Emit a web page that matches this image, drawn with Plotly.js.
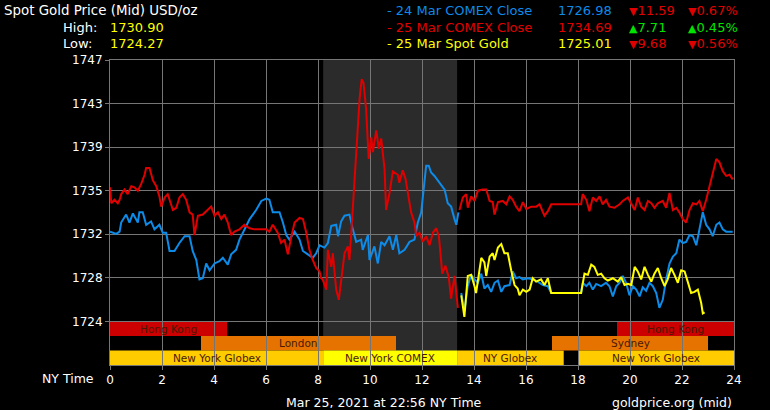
<!DOCTYPE html>
<html>
<head>
<meta charset="utf-8">
<script src="https://cdn.plot.ly/plotly-3.0.1.min.js"></script>
<style>html,body{margin:0;padding:0;background:#000;}#chart{width:770px;height:410px;}</style>
</head>
<body>
<div id="chart"></div>
<script>
// ---------- DATA ----------
const blueX = [0,0.24,0.37,0.43,0.62,0.75,0.88,1.07,1.13,1.26,1.39,1.58,1.71,1.90,2.03,2.16,2.29,2.48,2.67,2.87,3.06,3.18,3.32,3.44,3.57,3.70,3.83,4.02,4.21,4.34,4.53,4.66,4.85,4.98,5.24,5.37,5.62,5.82,6.01,6.13,6.26,6.52,6.65,6.78,6.90,7.10,7.29,7.42,7.61,7.80,7.93,8.06,8.25,8.38,8.51,8.70,8.77,8.89,9.02,9.21,9.34,9.47,9.66,9.72,9.92,9.98,10.17,10.30,10.43,10.56,10.75,10.88,11.01,11.13,11.33,11.52,11.71,11.84,11.97,12.10,12.16,12.26,12.35,12.48,12.67,12.87,12.99,13.12,13.25,13.32,13.40,
  13.45,
  13.51,13.63,13.76,13.89,14.02,14.15,14.28,14.40,14.53,14.66,14.79,14.92,15.05,15.17,15.37,15.49,15.62,15.75,15.88,16.07,16.26,16.45,16.65,16.84,16.97,18.12,18.18,18.32,18.44,18.57,18.70,18.89,19.08,19.21,19.34,19.47,19.60,19.72,19.85,19.98,20.11,20.24,20.37,20.49,20.62,20.75,20.88,21.01,21.13,21.26,21.39,21.52,21.65,21.78,21.90,22.03,22.16,22.29,22.42,22.55,22.67,22.80,22.93,23.06,23.18,23.32,23.44,23.57,23.70,23.95];
const blueY = [1731.9,1731.7,1731.9,1732.7,1733.4,1732.7,1733.5,1732.7,1733.6,1733.6,1732.5,1732.8,1732.1,1732.5,1731.8,1731.8,1730.2,1730.2,1730.9,1731.5,1731.5,1730.2,1729.4,1727.7,1727.8,1729.1,1728.5,1729.1,1729.3,1729.6,1729.0,1729.9,1730.3,1731.2,1732.4,1733.0,1733.8,1734.6,1734.8,1734.7,1733.6,1733.6,1732.7,1731.6,1731.2,1731.9,1731.2,1730.2,1729.9,1729.6,1730.0,1730.7,1730.5,1730.9,1732.4,1732.5,1731.5,1732.8,1733.3,1733.4,1732.1,1731.0,1731.2,1730.3,1731.6,1729.4,1730.6,1729.1,1731.0,1730.7,1731.5,1730.3,1731.6,1730.0,1730.3,1731.0,1731.2,1732.7,1733.6,1736.5,1737.7,1737.7,1737.1,1736.8,1736.2,1735.6,1734.4,1734.1,1733.0,1732.5,1733.6,
  null,
  1726.5,1724.9,1727.1,1728.1,1727.7,1727.4,1728.2,1726.9,1727.2,1726.6,1727.4,1727.6,1726.6,1727.1,1727.2,1728.4,1727.8,1727.9,1727.7,1727.8,1727.7,1727.5,1727.2,1727.1,1726.5,1726.5,1727.4,1727.1,1727.4,1726.8,1727.3,1727.1,1727.4,1727.1,1726.2,1727.1,1727.4,1728.0,1727.4,1726.3,1727.1,1726.8,1726.2,1727.0,1726.7,1727.4,1727.1,1726.5,1725.2,1725.9,1727.7,1729.1,1729.7,1730.0,1731.2,1730.9,1731.0,1731.6,1731.5,1730.7,1732.1,1733.6,1732.5,1732.1,1731.5,1732.5,1732.7,1732.1,1731.9,1731.9];

const redX = [0,0.05,0.17,0.30,0.37,0.43,0.56,0.68,0.82,0.94,1.07,1.20,1.33,1.39,1.52,1.65,1.78,1.90,1.97,2.10,2.22,2.29,2.42,2.55,2.67,2.80,2.93,3.06,3.18,3.25,3.38,3.57,3.70,3.89,4.02,4.15,4.28,4.40,4.53,4.66,4.79,4.98,5.17,5.37,5.56,5.82,6.01,6.13,6.26,6.45,6.58,6.71,6.84,6.97,7.10,7.29,7.42,7.55,7.67,7.80,7.93,8.06,8.12,8.18,8.32,8.38,8.51,8.57,8.63,8.70,8.80,8.89,9.02,9.15,9.21,9.28,9.40,9.53,9.60,9.68,9.75,9.85,9.95,10.05,10.11,10.24,10.34,10.43,10.56,10.62,10.75,10.88,11.07,11.13,11.26,11.37,11.45,11.58,11.71,11.78,11.90,12.03,12.16,12.29,12.42,12.55,12.65,12.78,12.90,13.03,13.12,13.25,13.38,
  13.41,
  13.44,13.57,13.70,13.76,13.89,14.02,14.15,14.34,14.47,14.60,14.72,14.79,14.92,15.11,15.24,15.37,15.49,15.62,15.75,15.88,16.01,16.20,16.39,16.52,16.71,16.84,16.97,18.12,18.18,18.32,18.44,18.57,18.70,18.83,18.95,19.08,19.21,19.40,19.60,19.72,19.92,20.05,20.18,20.30,20.43,20.56,20.69,20.82,20.94,21.07,21.26,21.39,21.52,21.65,21.78,21.90,22.03,22.16,22.29,22.42,22.55,22.67,22.80,22.93,23.06,23.18,23.32,23.44,23.57,23.70,23.83,23.95];
const redY = [1735.8,1734.4,1734.7,1734.4,1734.7,1735.2,1735.6,1735.2,1735.9,1735.8,1735.5,1736.1,1736.9,1737.5,1737.5,1736.4,1735.9,1735.0,1734.1,1734.9,1735.2,1734.7,1733.8,1734.0,1734.9,1735.2,1734.7,1733.6,1733.4,1731.6,1733.3,1733.4,1733.7,1734.1,1733.3,1733.6,1733.0,1733.4,1732.7,1731.6,1731.9,1732.1,1732.5,1732.2,1732.1,1732.1,1732.1,1731.9,1732.5,1731.8,1730.9,1731.2,1729.9,1731.4,1732.7,1733.1,1733.0,1731.8,1730.3,1729.4,1728.7,1728.4,1727.8,1727.7,1726.8,1730.3,1728.8,1730.0,1728.2,1726.8,1725.9,1727.7,1730.0,1730.6,1729.4,1731.8,1736.2,1741.2,1743.6,1745.3,1745.0,1742.7,1738.3,1740.2,1738.9,1740.8,1739.2,1740.1,1737.4,1733.8,1735.3,1737.2,1736.9,1736.2,1737.3,1736.5,1735.5,1733.6,1732.7,1731.5,1731.8,1731.0,1731.5,1730.7,1731.8,1732.2,1731.5,1728.2,1728.9,1727.9,1726.0,1728.0,1725.2,
  null,
  1733.8,1734.9,1735.2,1734.0,1735.0,1734.6,1735.5,1735.6,1735.6,1734.6,1734.5,1733.4,1734.5,1734.6,1734.3,1735.0,1734.7,1734.1,1733.7,1734.5,1733.9,1734.1,1734.1,1734.3,1733.3,1733.7,1734.3,1734.3,1735.2,1734.7,1733.7,1734.9,1734.6,1735.0,1734.3,1734.7,1734.1,1734.0,1734.3,1734.6,1734.9,1734.4,1733.8,1734.9,1734.1,1733.8,1734.6,1734.4,1734.0,1734.4,1734.6,1734.0,1735.3,1733.8,1734.0,1733.6,1733.0,1732.7,1733.8,1734.4,1734.3,1734.6,1733.7,1734.7,1735.9,1737.1,1738.3,1738.0,1737.2,1736.8,1736.9,1736.5];

const yellowX = [13.51,13.63,13.76,13.89,14.02,14.08,14.28,14.40,14.47,14.60,14.72,14.79,14.92,15.05,15.17,15.30,15.43,15.56,15.68,15.75,15.88,16.01,16.14,16.26,16.39,16.58,16.71,16.84,16.97,18.12,18.25,18.38,18.51,18.63,18.76,18.89,19.02,19.15,19.34,19.53,19.66,19.79,19.92,20.05,20.18,20.30,20.43,20.56,20.69,20.82,20.94,21.07,21.20,21.33,21.45,21.58,21.71,21.84,21.97,22.10,22.22,22.35,22.48,22.61,22.74,22.80,22.87];
const yellowY = [1726.3,1724.4,1728.0,1728.1,1727.1,1726.5,1729.6,1729.2,1728.0,1729.7,1730.0,1729.4,1730.5,1730.8,1730.0,1730.0,1728.5,1727.2,1726.9,1726.3,1726.8,1726.6,1726.8,1727.8,1727.5,1727.7,1727.2,1727.8,1726.5,1726.5,1728.2,1728.1,1729.0,1728.8,1728.1,1728.2,1727.8,1727.6,1727.8,1727.5,1727.9,1727.2,1727.3,1727.2,1728.8,1728.4,1727.7,1728.8,1728.1,1727.5,1728.2,1728.7,1727.8,1727.1,1727.7,1728.7,1728.1,1727.4,1728.5,1728.4,1727.5,1726.5,1726.6,1726.8,1725.6,1724.7,1724.8];

const yTickLabels = ['1724','1728','1732','1735','1739','1743','1747'];
const xTickValues = [0,2,4,6,8,10,12,14,16,18,20,22,24];

const sessionNames = ['Hong Kong','London','New York Globex','New York COMEX','NY Globex','Sydney','Hong Kong','New York Globex'];
const sessionStart = [0, 3.5, 0, 8.2, 13.35, 17, 19.5, 18];
const sessionEnd   = [4.5, 11, 8.2, 13.35, 17.45, 23, 24, 24];
const sessionRow   = [0, 1, 2, 2, 2, 1, 0, 2];
const comexOpen = 8.2, comexClose = 13.35;

const seriesNames = ['- 24 Mar COMEX Close','- 25 Mar COMEX Close','- 25 Mar Spot Gold'];
const seriesPrice = ['1726.98','1734.69','1725.01'];
const seriesChange = [-11.59, 7.71, -9.68];
const seriesPct = [-0.67, 0.45, -0.56];
const dayHigh = '1730.90', dayLow = '1724.27';
const stampText = 'Mar 25, 2021 at 22:56 NY Time';

// ---------- STYLE ----------
const C = {blue:'#0d8be8', red:'#e00000', yellow:'#ffff00', green:'#00e400', grid:'#767676'};
const sessionColor = {'Hong Kong':'#cc0000','London':'#e67300','Sydney':'#e67300','New York Globex':'#ffcc00','NY Globex':'#ffcc00','New York COMEX':'#ffff00'};
const seriesColor = [C.blue, C.red, C.yellow];
const FONT = 'DejaVu Sans, Verdana, sans-serif';

const yMin = 1724, yMax = 1747;
const step = (yMax - yMin) / 6;
const yTickVals = yTickLabels.map((_, i) => yMin + i * step);
const rowH = step / 3;

const L = 110, T = 60, R = 36, B = 45, W = 770, H = 410;
const pw = W - L - R, ph = H - T - B;
const px = x => (x - L) / pw;
const py = y => (H - B - y) / ph;

const shapes = [{type:'rect', layer:'below', xref:'x', yref:'paper', x0:comexOpen, x1:comexClose, y0:0, y1:1, fillcolor:'#2b2b2b', line:{width:0}}];
const annotations = [];
sessionNames.forEach((n, i) => {
  const y1 = yMin - sessionRow[i] * rowH, y0 = y1 - rowH;
  shapes.push({type:'rect', layer:'below', xref:'x', yref:'y', x0:sessionStart[i], x1:sessionEnd[i], y0:y0, y1:y1, fillcolor:sessionColor[n], line:{width:0}});
  annotations.push({xref:'x', yref:'y', x:(sessionStart[i]+sessionEnd[i])/2, y:(y0+y1)/2, text:n, showarrow:false, font:{family:FONT, size:10.5, color:'#4a1800'}, xanchor:'center', yanchor:'middle'});
});

function txt(x, y, text, color, size, anchor) {
  annotations.push({xref:'paper', yref:'paper', x:px(x), y:py(y), text:text, showarrow:false, xanchor:anchor||'left', yanchor:'middle', font:{family:FONT, size:size||13, color:color}, borderpad:0});
}
txt(3, 10, 'Spot Gold Price (Mid) USD/oz', '#ffffff', 13.4);
txt(62, 27, 'High:', '#ffffff');
txt(109, 27, dayHigh, C.yellow);
txt(62, 43.5, 'Low:', '#ffffff');
txt(109, 43.5, dayLow, C.yellow);
const rowY = [10, 27, 43.5];
seriesNames.forEach((n, i) => {
  txt(386, rowY[i], n, seriesColor[i]);
  txt(613, rowY[i], seriesPrice[i], seriesColor[i], 13, 'right');
  const up = seriesChange[i] >= 0;
  const col = up ? C.green : C.red;
  const arrow = '<span style="font-size:11px">' + (up ? '▲' : '▼') + '</span>';
  txt(628, rowY[i], arrow + Math.abs(seriesChange[i]).toFixed(2), col);
  txt(687, rowY[i], arrow + Math.abs(seriesPct[i]).toFixed(2) + '%', col);
});
txt(41, 378, 'NY Time', '#ffffff', 12.5);
txt(285, 402.5, stampText, '#ffffff', 12.5);
txt(733, 402.5, 'goldprice.org (mid)', '#ffffff', 12.5, 'right');

const traces = [
  {x:blueX, y:blueY, type:'scatter', mode:'lines', line:{color:C.blue, width:2}, connectgaps:false, hoverinfo:'skip'},
  {x:redX, y:redY, type:'scatter', mode:'lines', line:{color:C.red, width:2}, connectgaps:false, hoverinfo:'skip'},
  {x:yellowX, y:yellowY, type:'scatter', mode:'lines', line:{color:C.yellow, width:2}, hoverinfo:'skip'}
];

const layout = {
  width:W, height:H, margin:{l:L, r:R, t:T, b:B, pad:0},
  paper_bgcolor:'#000', plot_bgcolor:'#000', showlegend:false,
  font:{family:FONT, color:'#ffffff', size:12},
  xaxis:{range:[0,24], tickvals:xTickValues, ticks:'outside', ticklen:4, tickcolor:C.grid, gridcolor:C.grid, gridwidth:1, showline:true, linecolor:C.grid, mirror:true, zeroline:false, tickfont:{family:FONT, size:12, color:'#fff'}, fixedrange:true},
  yaxis:{range:[yMin - step, yMax], tickvals:yTickVals, ticktext:yTickLabels, ticks:'outside', ticklen:4, tickcolor:C.grid, gridcolor:C.grid, gridwidth:1, showline:true, linecolor:C.grid, mirror:true, zeroline:false, tickfont:{family:FONT, size:12, color:'#fff'}, fixedrange:true},
  shapes:shapes, annotations:annotations
};
Plotly.newPlot('chart', traces, layout, {staticPlot:true, displayModeBar:false});
</script>
</body>
</html>
